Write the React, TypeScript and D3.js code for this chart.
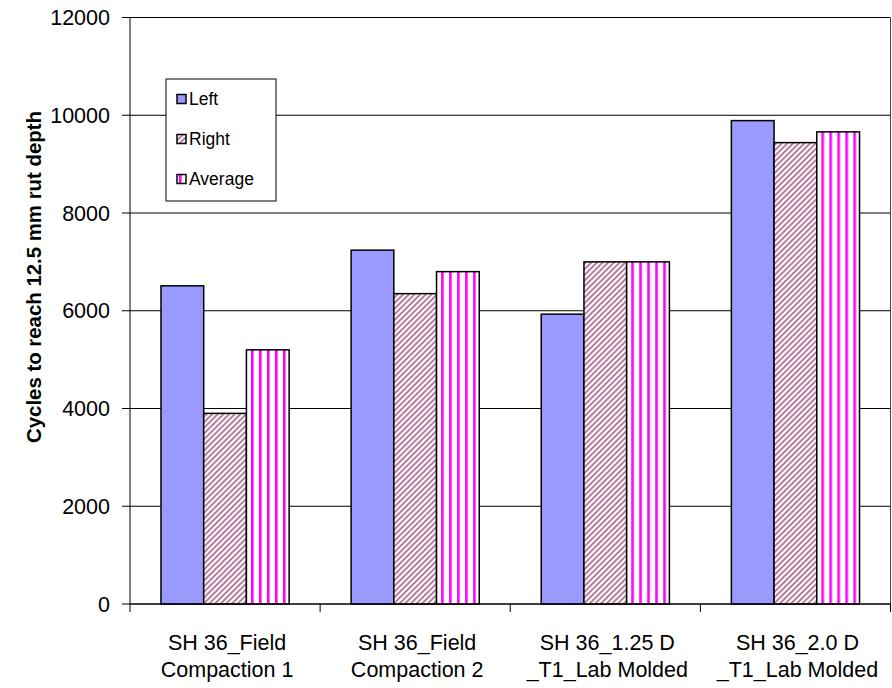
import React from "react";
import * as d3 from "d3";

const categories = [
  "SH 36_Field\nCompaction 1",
  "SH 36_Field\nCompaction 2",
  "SH 36_1.25 D\n_T1_Lab Molded",
  "SH 36_2.0 D\n_T1_Lab Molded",
];
const seriesNames = ["Left", "Right", "Average"];
const leftValues = [6510, 7240, 5930, 9890];
const rightValues = [3900, 6350, 7000, 9440];
const averageValues = [5200, 6800, 7000, 9660];
const yTicks = [0, 2000, 4000, 6000, 8000, 10000, 12000];
const yTitle = "Cycles to reach 12.5 mm rut depth";

const W = 892;
const H = 688;
const M = { left: 130, right: 890.5, top: 17.5, bottom: 604 };
const FONT = "'Liberation Sans', Arial, sans-serif";

const fills = ["#9999FF", "url(#hatchRight)", "url(#stripeAvg)"];

export default function App() {
  const series = [leftValues, rightValues, averageValues];
  const x = d3
    .scaleBand<string>()
    .domain(categories)
    .range([M.left, M.right])
    .paddingInner(0.326)
    .paddingOuter(0.163);
  const xs = d3
    .scaleBand<string>()
    .domain(seriesNames)
    .range([0, x.bandwidth()]);
  const y = d3.scaleLinear().domain([0, 12000]).range([M.bottom, M.top]);
  const step = x.step();

  return (
    <div style={{ position: "fixed", left: 0, top: 0 }}>
      <svg width={W} height={H} style={{ display: "block", background: "#fff" }}>
        <defs>
          <pattern
            id="hatchRight"
            patternUnits="userSpaceOnUse"
            width={4}
            height={4}
            patternTransform="rotate(45)"
          >
            <rect width={4} height={4} fill="#fff" />
            <line x1={1} y1={0} x2={1} y2={4} stroke="#A65C86" strokeWidth={1.6} />
          </pattern>
          <pattern id="stripeAvg" patternUnits="userSpaceOnUse" width={8} height={8}>
            <rect width={8} height={8} fill="#fff" />
            <rect x={2} y={0} width={2.6} height={8} fill="#FF00FF" />
          </pattern>
        </defs>

        {/* gridlines */}
        {yTicks.map((t) => (
          <line
            key={"g" + t}
            x1={M.left}
            x2={M.right}
            y1={y(t)}
            y2={y(t)}
            stroke="#000"
            strokeWidth={1}
          />
        ))}
        {/* plot border right */}
        <line x1={M.right} x2={M.right} y1={M.top} y2={M.bottom} stroke="#444" strokeWidth={1} />

        {/* bars */}
        {categories.map((c, i) => (
          <g key={c} transform={`translate(${x(c)},0)`}>
            {seriesNames.map((s, j) => (
              <rect
                key={s}
                x={xs(s)}
                y={y(series[j][i])}
                width={xs.bandwidth()}
                height={y(0) - y(series[j][i])}
                fill={fills[j]}
                stroke="#000"
                strokeWidth={1.5}
              />
            ))}
          </g>
        ))}

        {/* y axis */}
        <line x1={M.left} x2={M.left} y1={M.top} y2={M.bottom} stroke="#000" strokeWidth={1} />
        {yTicks.map((t) => (
          <g key={"t" + t}>
            <line x1={M.left - 8} x2={M.left} y1={y(t)} y2={y(t)} stroke="#000" strokeWidth={1} />
            <text
              x={M.left - 20}
              y={y(t)}
              dy="0.36em"
              textAnchor="end"
              fontFamily={FONT}
              fontSize={21.5}
              fill="#000"
            >
              {t}
            </text>
          </g>
        ))}

        {/* x axis */}
        <line x1={M.left} x2={M.right} y1={M.bottom} y2={M.bottom} stroke="#000" strokeWidth={1} />
        {d3.range(categories.length + 1).map((k) => (
          <line
            key={"xt" + k}
            x1={M.left + k * step}
            x2={M.left + k * step}
            y1={M.bottom}
            y2={M.bottom + 8}
            stroke="#000"
            strokeWidth={1}
          />
        ))}
        {categories.map((c) => (
          <text
            key={"xl" + c}
            textAnchor="middle"
            fontFamily={FONT}
            fontSize={21.5}
            fill="#000"
          >
            {c.split("\n").map((line, li) => (
              <tspan key={li} x={(x(c) as number) + x.bandwidth() / 2 + 2} y={650 + li * 27}>
                {line}
              </tspan>
            ))}
          </text>
        ))}

        {/* y title */}
        <text
          transform={`translate(34,277) rotate(-90)`}
          textAnchor="middle"
          dy="0.35em"
          fontFamily={FONT}
          fontWeight="bold"
          fontSize={20.4}
          fill="#000"
        >
          {yTitle}
        </text>

        {/* legend */}
        <rect x={166} y={79} width={110} height={122} fill="#fff" stroke="#000" strokeWidth={1} />
        {seriesNames.map((s, j) => (
          <g key={"lg" + s} transform={`translate(177,${99 + j * 40})`}>
            <rect x={0} y={-4.5} width={9} height={9} fill={fills[j]} stroke="#000" strokeWidth={1.5} />
            <text x={12} y={0} dy="0.36em" fontFamily={FONT} fontSize={17.5} fill="#000">
              {s}
            </text>
          </g>
        ))}
      </svg>
    </div>
  );
}
